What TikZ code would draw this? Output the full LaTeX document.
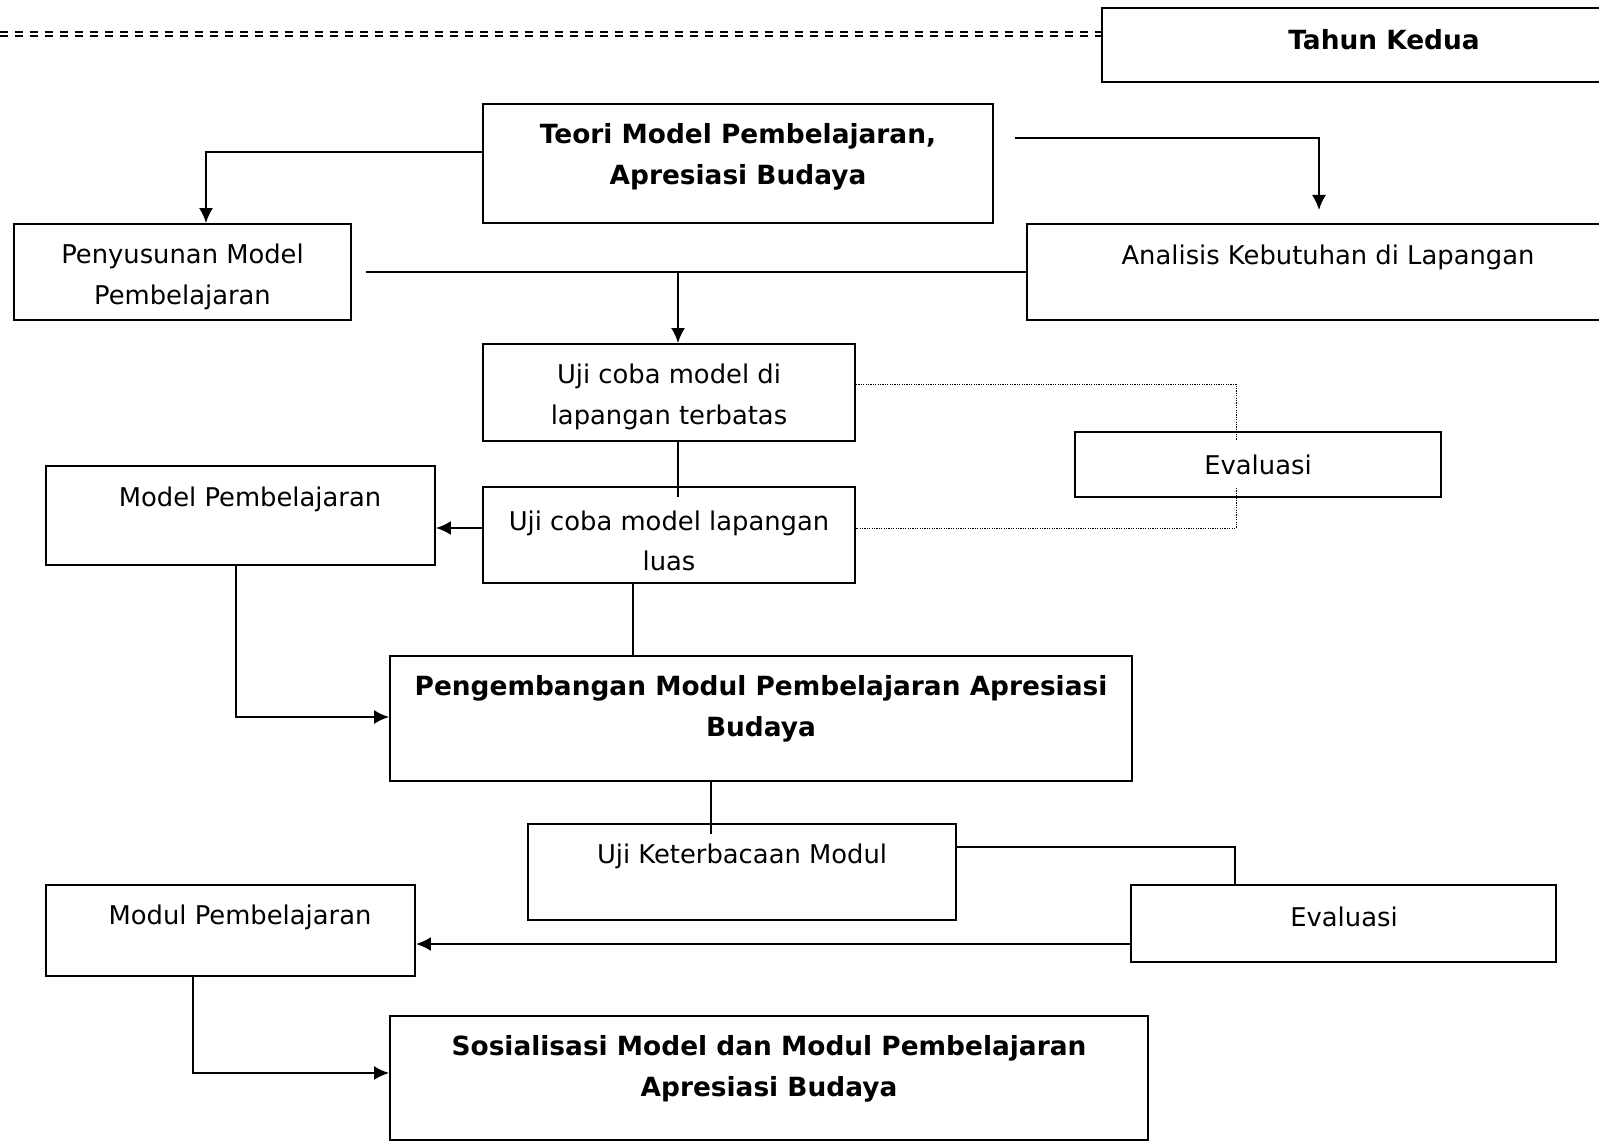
\documentclass[tikz,border=0pt]{standalone}
\usepackage{fontspec}
\setmainfont{DejaVu Sans}
\usetikzlibrary{arrows.meta}

\tikzset{
  box/.style={draw, line width=1.9pt, inner sep=0pt},
  txt/.style={align=center, font=\fontsize{25.8}{40.5}\selectfont},
  btxt/.style={align=center, font=\fontsize{26.4}{40.5}\selectfont\bfseries},
  link/.style={line width=1.9pt},
  arr/.style={line width=1.9pt, -{Latex[length=15pt,width=14pt]}},
  dots/.style={line width=1pt, dash pattern=on 1.2pt off 1.2pt}
}

\begin{document}
\begin{tikzpicture}[x=1pt,y=-1pt]

\useasboundingbox (0,0) rectangle (1599,1142);

% top line and year box
\draw [line width=2.2pt, dash pattern=on 8pt off 7pt] (0,32) -- (1101,32);
\draw [line width=2.2pt, dash pattern=on 8pt off 7pt] (0,36) -- (1101,36);
\node (tahun) [box, line width=2.6pt, minimum width=538pt, minimum height=74pt] at (1371,45) {};
\node (tahunT) [btxt] at (1384,40) {Tahun Kedua};

% boxes
\node (teori) [box, minimum width=510pt, minimum height=119pt] at (738,163.5) {};
\node (teoriT) [btxt] at (738,157) {Teori Model Pembelajaran,\\Apresiasi Budaya};

\node (peny) [box, minimum width=337pt, minimum height=96pt] at (182.5,272) {};
\node (penyT) [txt] at (182.5,277) {Penyusunan Model\\Pembelajaran};

\node (anal) [box, minimum width=613pt, minimum height=96pt] at (1333.5,272) {};
\node (analT) [txt] at (1328,257) {Analisis Kebutuhan di Lapangan};

\node (terb) [box, minimum width=372pt, minimum height=97pt] at (669,392.5) {};
\node (terbT) [txt] at (669,397) {Uji coba model di\\lapangan terbatas};

\node (eval1) [box, minimum width=366pt, minimum height=65pt] at (1258,464.5) {};
\node (eval1T) [txt] at (1258,465) {Evaluasi};

\node (modelp) [box, minimum width=389pt, minimum height=99pt] at (240.5,515.5) {};
\node (modelpT) [txt] at (250,499) {Model Pembelajaran};

\node (luas) [box, minimum width=372pt, minimum height=96pt] at (669,535) {};
\node (luasT) [txt] at (669,541) {Uji coba model lapangan\\luas};

\node (peng) [box, minimum width=742pt, minimum height=125pt] at (761,718.5) {};
\node (pengT) [btxt] at (761,709) {Pengembangan Modul Pembelajaran Apresiasi\\Budaya};

\node (keter) [box, minimum width=428pt, minimum height=96pt] at (742,872) {};
\node (keterT) [txt] at (742,856) {Uji Keterbacaan Modul};

\node (eval2) [box, minimum width=425pt, minimum height=77pt] at (1343.5,923.5) {};
\node (eval2T) [txt] at (1344,917) {Evaluasi};

\node (modul) [box, minimum width=369pt, minimum height=91pt] at (230.5,930.5) {};
\node (modulT) [txt] at (240,917) {Modul Pembelajaran};

\node (sosial) [box, minimum width=758pt, minimum height=124pt] at (769,1078) {};
\node (sosialT) [btxt] at (769,1069) {Sosialisasi Model dan Modul Pembelajaran\\Apresiasi Budaya};

% connectors
\coordinate (teoriR) at (1015,138);
\coordinate (analA) at (1319,210);
\coordinate (penyR) at (366,272);
\coordinate (midA) at (678,272);

\draw [arr] (teori.west |- 0,152) -| (peny.north -| 206,0);
\draw [arr] (teoriR) -| (analA);
\draw [link] (penyR) -- (anal.west |- penyR);
\draw [arr] (midA) -- (terb.north -| midA);
\draw [link] (terb.south -| midA) -- (678,497);

\draw [dots] (terb.east |- 0,384) -| (1236,440);
\draw [dots] (1236,488) |- (luas.east |- 0,528);

\draw [arr] (luas.west |- 0,528) -- (modelp.east |- 0,528);
\draw [link] (luas.south -| 633,0) -- (peng.north -| 633,0);
\draw [arr] (modelp.south -| 236,0) |- (peng.west |- 0,717);

\draw [link] (peng.south -| 711,0) -- (711,834);
\draw [link] (keter.east |- 0,847) -| (eval2.north -| 1235,0);
\draw [arr] (eval2.west |- 0,944) -- (modul.east |- 0,944);
\draw [arr] (modul.south -| 193,0) |- (sosial.west |- 0,1073);

\end{tikzpicture}
\end{document}
